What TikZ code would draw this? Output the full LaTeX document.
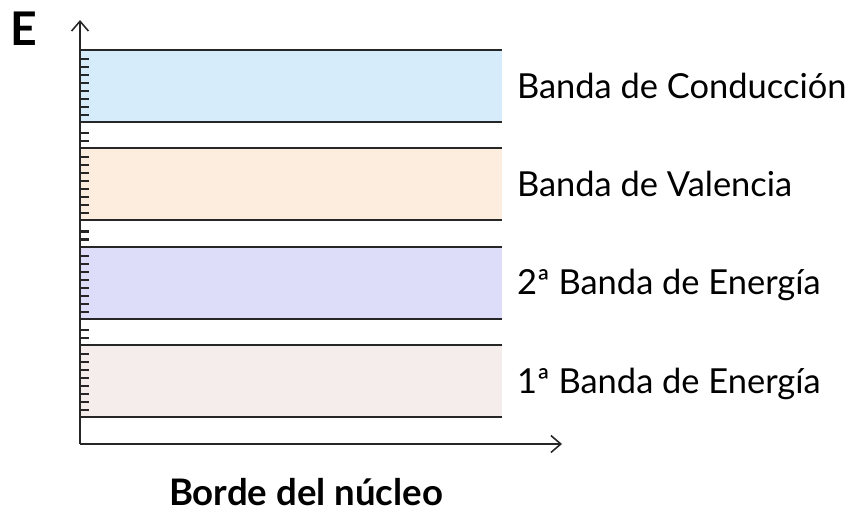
\documentclass[tikz,border=0pt]{standalone}
\usepackage{fontspec}
\setmainfont{Lato}
\usepackage{xcolor}
\usetikzlibrary{positioning,calc,arrows.meta}

\definecolor{bandblue}{RGB}{214,236,250}
\definecolor{bandorange}{RGB}{253,237,222}
\definecolor{bandpurple}{RGB}{221,221,250}
\definecolor{bandpink}{RGB}{245,236,236}

\begin{document}
\begin{tikzpicture}[
    x=0.025cm, y=-0.025cm,
    band/.style={anchor=north west, minimum width=10.55cm, minimum height=1.8cm, inner sep=0pt, outer sep=0pt},
    bandedge/.style={line width=1.4pt, draw=black!85},
    axis/.style={line width=1.4pt, draw=black!85, -{Straight Barb[length=7pt, width=12pt, line width=1.1pt]}},
    tickmark/.style={line width=1.5pt, draw=black!85},
    bandlabel/.style={anchor=base west, font=\fontsize{24.5}{28}\selectfont},
    axistitle/.style={font=\bfseries\fontsize{26}{30}\selectfont}
]
\useasboundingbox (0,0) rectangle (855,513);

% bands
\node[band, fill=bandblue] (conduccion) at (80,50) {};
\node[band, fill=bandorange, below=0.66cm of conduccion] (valencia) {};
\node[band, fill=bandpurple, below=0.66cm of valencia] (segunda) {};
\node[band, fill=bandpink, below=0.66cm of segunda] (primera) {};

% axes
\coordinate (origin) at (80,444);
\coordinate (ytip) at (80,20);
\coordinate (xtip) at (562,444);
\draw[axis] (origin) -- (ytip);
\draw[axis] (origin) -- (xtip);

% ticks
\foreach \b in {conduccion,valencia,segunda,primera}
  \foreach \k in {1,...,8}
    \draw[tickmark] ($(\b.north west)+(0,8*\k+1)$) -- ++(9,0);
\foreach \b in {conduccion,valencia,segunda}
  \foreach \k in {11,19}
    \draw[tickmark] ($(\b.south west)+(0,\k)$) -- ++(9,0);

% band edges
\foreach \b in {conduccion,valencia,segunda,primera} {
  \draw[bandedge] (\b.north west) -- (\b.north east);
  \draw[bandedge] (\b.south west) -- (\b.south east);
}

\node[bandlabel] (lconduccion) at ($(conduccion.north east)+(10,48)$) {Banda de Conducción};
\node[bandlabel] (lvalencia) at ($(valencia.north east)+(10,48)$) {Banda de Valencia};
\node[bandlabel] (lsegunda) at ($(segunda.north east)+(10,48)$) {2ª Banda de Energía};
\node[bandlabel] (lprimera) at ($(primera.north east)+(10,48)$) {1ª Banda de Energía};

\node[axistitle, font=\bfseries\fontsize{33}{36}\selectfont] (energia) at (24,29) {E};
\node[axistitle, anchor=base, inner sep=1pt] (borde) at (306,505) {Borde del núcleo};
\end{tikzpicture}
\end{document}
